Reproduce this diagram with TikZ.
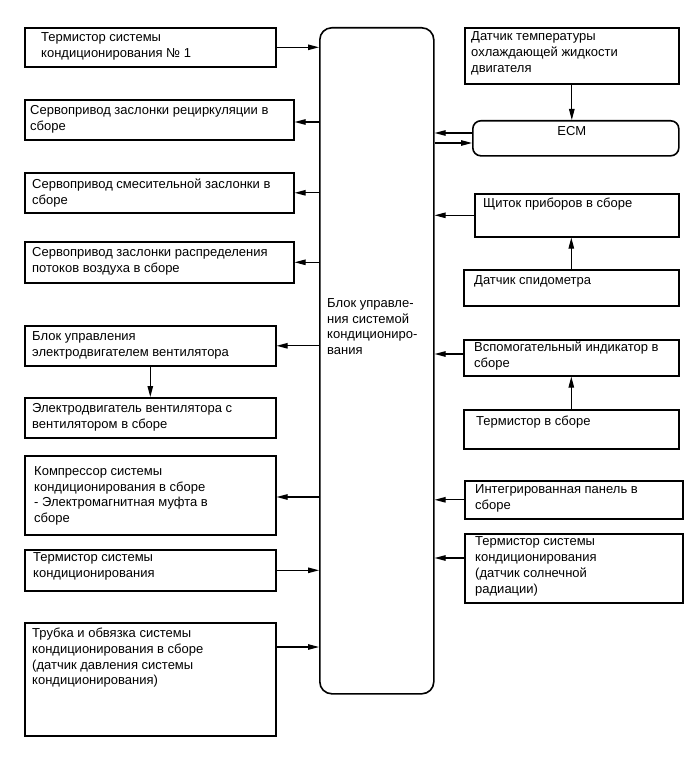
\documentclass[tikz,border=0pt]{standalone}
\usepackage{fontspec}
\setmainfont{Liberation Sans}
\usetikzlibrary{positioning,arrows.meta}

\begin{document}
\begin{tikzpicture}[x=1pt,y=-1pt,
  box/.style={draw, line width=1.6pt, anchor=north west, inner sep=0pt},
  txt/.style={align=left, inner sep=0pt, font=\fontsize{13}{15.9}\selectfont},
  conn/.style={line width=1.1pt, -{Triangle[length=11pt,width=5.5pt]}}]
  \fill[white] (0,0) rectangle (690,757);
  \useasboundingbox (0,0) rectangle (690,757);

  % control unit
  \node[box, rounded corners=12pt, minimum width=114, minimum height=666] (ecu) at (319,27) {};
  \node[txt, below right=271pt and 8pt of ecu.north west] (ecutxt)
    {Блок управле-\\ния системой\\кондициониро-\\вания};

  % left column
  \node[box, minimum width=251, minimum height=39] (l1) at (24,27) {};
  \node[txt, below right=5pt and 17pt of l1.north west] (l1txt)
    {Термистор системы\\кондиционирования № 1};
  \node[box, minimum width=269, minimum height=40] (l2) at (24,99) {};
  \node[txt, below right=6pt and 6pt of l2.north west] (l2txt)
    {Сервопривод заслонки рециркуляции в\\сборе};
  \node[box, minimum width=269, minimum height=40] (l3) at (24,172) {};
  \node[txt, below right=7pt and 8pt of l3.north west] (l3txt)
    {Сервопривод смесительной заслонки в\\сборе};
  \node[box, minimum width=269, minimum height=41] (l4) at (24,241) {};
  \node[txt, below right=6pt and 8pt of l4.north west] (l4txt)
    {Сервопривод заслонки распределения\\потоков воздуха в сборе};
  \node[box, minimum width=251, minimum height=40] (l5) at (24,325) {};
  \node[txt, below right=6pt and 8pt of l5.north west] (l5txt)
    {Блок управления\\электродвигателем вентилятора};
  \node[box, minimum width=251, minimum height=40] (l6) at (24,397) {};
  \node[txt, below right=6pt and 8pt of l6.north west] (l6txt)
    {Электродвигатель вентилятора с\\вентилятором в сборе};
  \node[box, minimum width=251, minimum height=79] (l7) at (24,455) {};
  \node[txt, below right=11pt and 10pt of l7.north west] (l7txt)
    {Компрессор системы\\кондиционирования в сборе\\- Электромагнитная муфта в\\сборе};
  \node[box, minimum width=251, minimum height=41] (l8) at (24,549) {};
  \node[txt, below right=3.5pt and 9pt of l8.north west] (l8txt)
    {Термистор системы\\кондиционирования};
  \node[box, minimum width=251, minimum height=113] (l9) at (24,622) {};
  \node[txt, below right=5.5pt and 8pt of l9.north west] (l9txt)
    {Трубка и обвязка системы\\кондиционирования в сборе\\(датчик давления системы\\кондиционирования)};

  % right column
  \node[box, minimum width=214, minimum height=56] (r1) at (464,27) {};
  \node[txt, below right=4.5pt and 7pt of r1.north west] (r1txt)
    {Датчик температуры\\охлаждающей жидкости\\двигателя};
  \node[box, rounded corners=8pt, minimum width=206, minimum height=35] (ecm) at (472,120) {};
  \node[txt, below=6.5pt of ecm.north, xshift=-4pt] (ecmtxt) {ECM};
  \node[box, minimum width=204, minimum height=43] (r3) at (474,193) {};
  \node[txt, below right=4.5pt and 9pt of r3.north west] (r3txt)
    {Щиток приборов в сборе};
  \node[box, minimum width=215, minimum height=36] (r4) at (463,269) {};
  \node[txt, below right=6.5pt and 11pt of r4.north west] (r4txt)
    {Датчик спидометра};
  \node[box, minimum width=215, minimum height=36] (r5) at (463,339) {};
  \node[txt, below right=2.5pt and 11pt of r5.north west] (r5txt)
    {Вспомогательный индикатор в\\сборе};
  \node[box, minimum width=215, minimum height=39] (r6) at (463,409) {};
  \node[txt, below right=6.5pt and 13pt of r6.north west] (r6txt)
    {Термистор в сборе};
  \node[box, minimum width=218, minimum height=38] (r7) at (464,480) {};
  \node[txt, below right=4.5pt and 11pt of r7.north west] (r7txt)
    {Интегрированная панель в\\сборе};
  \node[box, minimum width=218, minimum height=69] (r8) at (464,533) {};
  \node[txt, below right=3.5pt and 11pt of r8.north west] (r8txt)
    {Термистор системы\\кондиционирования\\(датчик солнечной\\радиации)};

  % connections
  \draw[conn] (l1.east) -- (l1.east -| ecu.west);
  \draw[conn] ([yshift=-23pt]l2.north east -| ecu.west) -- ([yshift=-23pt]l2.north east);
  \draw[conn] (l3.east -| ecu.west) -- (l3.east);
  \draw[conn] (l4.east -| ecu.west) -- (l4.east);
  \draw[conn] (l5.east -| ecu.west) -- (l5.east);
  \draw[conn] (l5.south) -- (l6.north);
  \draw[conn] ([yshift=-42pt]l7.north east -| ecu.west) -- ([yshift=-42pt]l7.north east);
  \draw[conn] (l8.east) -- (l8.east -| ecu.west);
  \draw[conn] ([yshift=-25pt]l9.north east) -- ([yshift=-25pt]l9.north east -| ecu.west);

  \draw[conn] (r1.south) -- (r1.south |- ecm.north);
  \draw[conn] ([yshift=-13pt]ecm.north west) -- ([yshift=-13pt]ecm.north west -| ecu.east);
  \draw[conn] ([yshift=-23pt]ecm.north west -| ecu.east) -- ([yshift=-23pt]ecm.north west);
  \draw[conn] (r3.west) -- (r3.west -| ecu.east);
  \draw[conn] (r4.north) -- (r4.north |- r3.south);
  \draw[conn] ([yshift=-15pt]r5.north west) -- ([yshift=-15pt]r5.north west -| ecu.east);
  \draw[conn] (r6.north) -- (r6.north |- r5.south);
  \draw[conn] (r7.west) -- (r7.west -| ecu.east);
  \draw[conn] ([yshift=-25pt]r8.north west) -- ([yshift=-25pt]r8.north west -| ecu.east);
\end{tikzpicture}
\end{document}
